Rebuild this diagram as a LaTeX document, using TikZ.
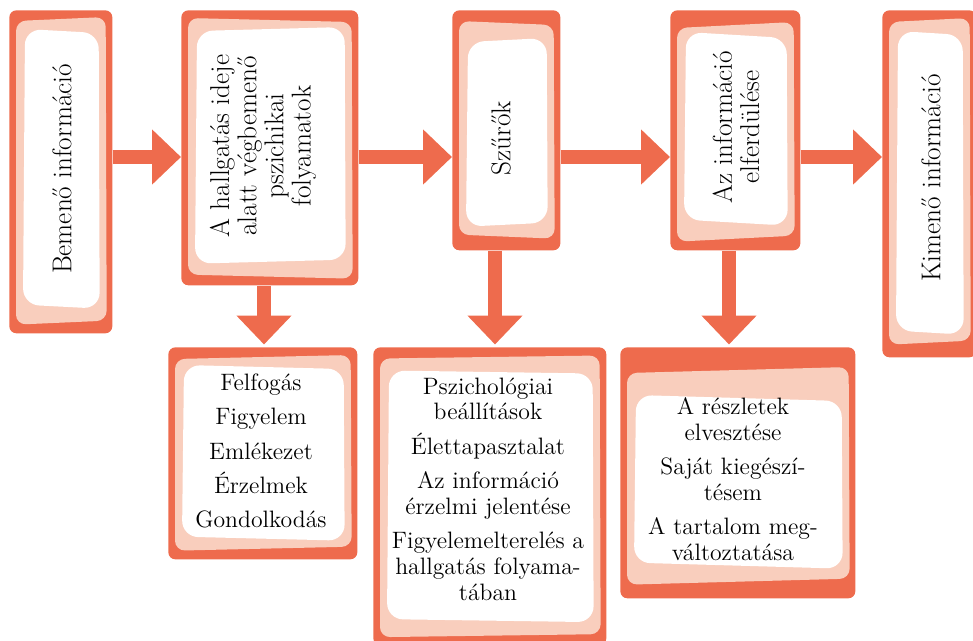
\documentclass[tikz,border=0pt]{standalone}
\usepackage{fontspec}
\usepackage{tikz}
\usetikzlibrary{positioning, calc, arrows.meta}

\definecolor{cardred}{HTML}{EE6B4D}
\definecolor{cardpink}{HTML}{F9CEBD}

% pink and white layers of a card: node, pink top/bottom, white top/bottom, tilt
\newcommand{\cardlayers}[6]{%
  \fill[cardpink, rounded corners=0.2cm]
    ($(#1.north west)+(7,{#2+(#6)})$) -- ($(#1.north east)+(-7,{#2-(#6)})$) --
    ($(#1.south east)+(-6,{-(#3)-(#6)})$) -- ($(#1.south west)+(7,{-(#3)+(#6)})$) -- cycle;
  \fill[white, rounded corners=0.32cm]
    ($(#1.north west)+(16,{#4-(#6)})$) -- ($(#1.north east)+(-14,{#4+(#6)})$) --
    ($(#1.south east)+(-13,{-(#5)+(#6)})$) -- ($(#1.south west)+(14,{-(#5)-(#6)})$) -- cycle;
}

\begin{document}
\begin{tikzpicture}[x=0.02cm, y=-0.02cm,
        card/.style={fill=cardred, rounded corners=0.14cm, inner sep=0pt,
                     anchor=north west},
        vtext/.style={rotate=90, align=center, inner sep=0pt,
                      font=\fontsize{15.5}{15.5}\selectfont},
        listtext/.style={align=center, inner sep=0pt,
                         font=\fontsize{13.5}{14.6}\selectfont},
        flow/.style={draw=cardred, line width=0.29cm,
                     -{Triangle[length=0.58cm, width=1.07cm]}}]
      \useasboundingbox (0,0) rectangle (973,640);
      \clip (0,0) rectangle (973,640);

      % top row
      \node[card, minimum width=2.06cm, minimum height=6.46cm] (in)   at (9,10)   {};
      \node[card, minimum width=3.54cm, minimum height=5.50cm] (proc) at (181,10) {};
      \node[card, minimum width=2.16cm, minimum height=4.80cm] (filt) at (452,10) {};
      \node[card, minimum width=2.60cm, minimum height=4.80cm] (dist) at (670,10) {};
      \node[card, minimum width=1.88cm, minimum height=6.94cm] (out)  at (882,10) {};
      % bottom row
      \node[card, minimum width=3.78cm, minimum height=4.24cm] (proclist) at (168,347) {};
      \node[card, minimum width=4.66cm, minimum height=5.96cm] (filtlist) at (373,347) {};
      \node[card, minimum width=4.70cm, minimum height=5.02cm] (distlist) at (620,347) {};

      \cardlayers{in}{9}{11}{21}{27}{2}
      \cardlayers{proc}{10}{9}{19}{24}{-2}
      \cardlayers{filt}{13}{14}{30}{26}{-2}
      \cardlayers{dist}{15}{12}{25}{28}{3}
      \cardlayers{out}{10}{15}{23}{25}{2}
      \cardlayers{proclist}{10}{11}{20}{21}{2}
      \cardlayers{filtlist}{10}{10}{25}{25}{1.5}
      \cardlayers{distlist}{23}{17}{51}{33}{3}

      \node[vtext] (in-text)   at (62,169)  {Bemenő információ};
      \node[vtext] (proc-text) at (263,146) {A hallgatás ideje\\alatt végbemenő\\pszichikai\\folyamatok};
      \node[vtext] (filt-text) at (501,138) {Szűrők};
      \node[vtext] (dist-text) at (736,127) {Az információ\\elferdülése};
      \node[vtext] (out-text)  at (931,178) {Kimenő információ};

      \node[listtext] (proclist-text) at (261,451)
        {Felfogás\\[5pt]Figyelem\\[5pt]Emlékezet\\[5pt]Érzelmek\\[5pt]Gondolkodás};
      \node[listtext] (filtlist-text) at (488,489)
        {Pszichológiai\\beállítások\\[5pt]Élettapasztalat\\[5pt]Az információ\\érzelmi jelentése\\[5pt]Figyelemelterelés a\\hallgatás folyama-\\tában};
      \node[listtext] (distlist-text) at (733,479)
        {A részletek\\elvesztése\\[5pt]Saját kiegészí-\\tésem\\[5pt]A tartalom meg-\\változtatása};

      % arrows
      \coordinate (row) at (0,157);
      \foreach \a/\b in {in/proc, proc/filt, filt/dist, dist/out}
        \draw[flow] (\a.east |- row) -- (\b.west |- row);
      \coordinate (proc-col) at (264,0);
      \coordinate (filt-col) at (495,0);
      \coordinate (dist-col) at (729,0);
      \foreach \a in {proc, filt, dist}
        \draw[flow, shorten >=0.05cm] (\a.south -| \a-col) -- (\a list.north -| \a-col);
    \end{tikzpicture}
\end{document}
